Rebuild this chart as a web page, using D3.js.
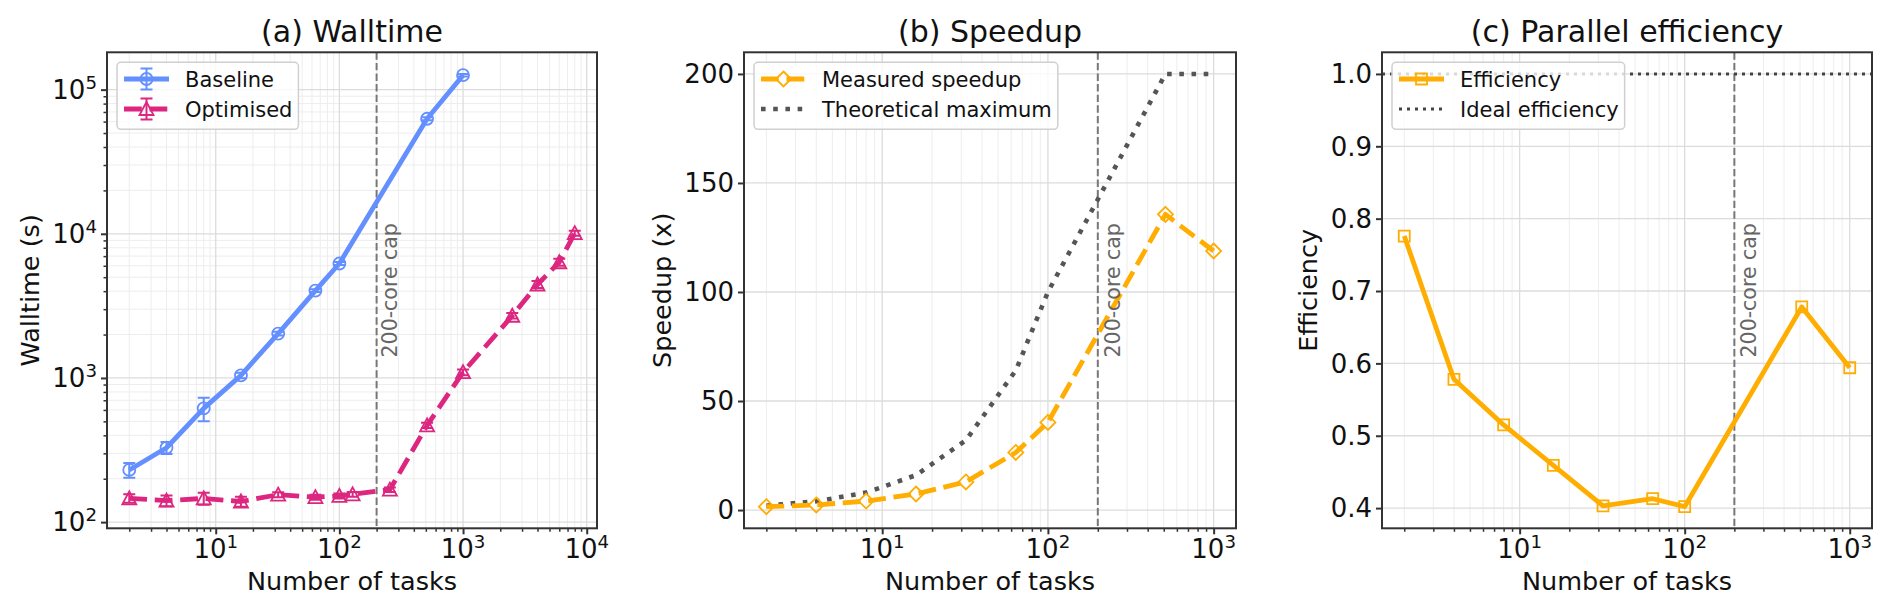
<!DOCTYPE html>
<html>
<head>
<meta charset="utf-8">
<script src="https://cdn.jsdelivr.net/npm/d3@7"></script>
<style>
  body { margin: 0; background: #fff; }
  text { font-family: "DejaVu Sans", sans-serif; }
</style>
</head>
<body>
<div id="chart"></div>
<script>
// ---- data ----
const tasks        = [2, 4, 8, 16, 32, 64, 100, 512, 1000];
const baselineTime = [230, 328, 615, 1042, 2032, 4036, 6220, 62800, 126000];
const baselineErr  = [27, 31, 115, 45, 60, 90, 150, 1500, 2500];

const optTasks = [2, 4, 8, 16, 32, 64, 100, 128, 256, 512, 1000, 2500, 4000, 6000, 8000];
const optTime  = [146, 141, 146, 139, 155, 149, 152, 156, 168, 469, 1096, 2700, 4450, 6350, 10100];
const optErr   = [10, 12, 14, 11, 6, 6, 6, 6, 6, 20, 50, 120, 250, 350, 400];

const speedup     = [1.55, 2.31, 4.12, 7.36, 12.9, 26.4, 40.2, 135.6, 118.8];
const theoretical = [2, 4, 8, 16, 32, 64, 100, 200, 200];
const efficiency  = [0.776, 0.578, 0.515, 0.459, 0.403, 0.413, 0.402, 0.678, 0.594];
const idealEff    = 1.0;
const coreCap     = 200;

const speedTicks = [0, 50, 100, 150, 200];
const effTicks   = [0.4, 0.5, 0.6, 0.7, 0.8, 0.9, 1.0];

const BLUE = "#648FFF", PINK = "#DC267F", ORANGE = "#FFAD00";
const W = 1892, H = 611;
const plotTop = 52.3, plotBottom = 528.3;

const svg = d3.select("#chart").append("svg")
  .attr("width", W).attr("height", H);

function padLog(lo, hi) {
  let a = Math.log10(lo), b = Math.log10(hi), m = (b - a) * 0.05;
  return [Math.pow(10, a - m), Math.pow(10, b + m)];
}
function padLin(lo, hi) {
  let m = (hi - lo) * 0.05;
  return [lo - m, hi + m];
}
function logTicks(scale) {
  let [a, b] = scale.domain();
  let major = [], minor = [];
  for (let e = Math.floor(Math.log10(a)); e <= Math.ceil(Math.log10(b)); e++) {
    for (let k = 1; k < 10; k++) {
      let v = k * Math.pow(10, e);
      if (v < a || v > b) continue;
      (k === 1 ? major : minor).push(v);
    }
  }
  return {major, minor};
}
function pow10(sel) {
  sel.each(function(d) {
    let t = d3.select(this);
    t.append("tspan").text("10");
    t.append("tspan").attr("dy", "-0.55em").attr("font-size", "0.7em")
      .text(Math.round(Math.log10(d)));
  });
}

function marker(g, type, x, y, color) {
  let p;
  if (type === "circle") {
    return g.append("circle").attr("cx", x).attr("cy", y).attr("r", 6)
      .attr("fill", "none").attr("stroke", color).attr("stroke-width", 1.8);
  }
  if (type === "triangle") p = `M${x},${y-7}L${x-7},${y+6}L${x+7},${y+6}Z`;
  if (type === "diamond") p = `M${x},${y-7.5}L${x+7.5},${y}L${x},${y+7.5}L${x-7.5},${y}Z`;
  if (type === "square") p = `M${x-5.5},${y-5.5}h11v11h-11Z`;
  return g.append("path").attr("d", p)
    .attr("fill", "none").attr("stroke", color).attr("stroke-width", 1.8);
}

function panel(o) {
  const w = o.width, h = plotBottom - plotTop;
  const g = svg.append("g").attr("transform", `translate(${o.left},${plotTop})`);
  o.x.range([0, w]);
  o.y.range([h, 0]);
  const xt = logTicks(o.x);
  const yt = o.yLog ? logTicks(o.y) : {major: o.yTicks, minor: []};

  // grid
  const grid = g.append("g");
  grid.selectAll(".xmin").data(xt.minor).join("line")
    .attr("x1", d => o.x(d)).attr("x2", d => o.x(d)).attr("y1", 0).attr("y2", h)
    .attr("stroke", "#ededed").attr("stroke-width", 1);
  grid.selectAll(".ymin").data(yt.minor).join("line")
    .attr("y1", d => o.y(d)).attr("y2", d => o.y(d)).attr("x1", 0).attr("x2", w)
    .attr("stroke", "#ededed").attr("stroke-width", 1);
  grid.selectAll(".xmaj").data(xt.major).join("line")
    .attr("x1", d => o.x(d)).attr("x2", d => o.x(d)).attr("y1", 0).attr("y2", h)
    .attr("stroke", "#dcdcdc").attr("stroke-width", 1.3);
  grid.selectAll(".ymaj").data(yt.major).join("line")
    .attr("y1", d => o.y(d)).attr("y2", d => o.y(d)).attr("x1", 0).attr("x2", w)
    .attr("stroke", "#dcdcdc").attr("stroke-width", 1.3);

  const clipId = "clip" + o.left;
  g.append("clipPath").attr("id", clipId).append("rect").attr("width", w).attr("height", h);
  const plot = g.append("g").attr("clip-path", `url(#${clipId})`);

  // core cap line
  plot.append("line")
    .attr("x1", o.x(coreCap)).attr("x2", o.x(coreCap)).attr("y1", 0).attr("y2", h)
    .attr("stroke", "#777").attr("stroke-width", 2).attr("stroke-dasharray", "7.4,3.2");

  o.draw(plot, o.x, o.y);

  plot.append("text")
    .attr("transform", `translate(${o.x(coreCap * 1.1)},${h / 2}) rotate(-90)`)
    .attr("text-anchor", "middle").attr("dominant-baseline", "hanging")
    .attr("font-size", 20.5).attr("fill", "#666")
    .text("200-core cap");

  // ticks
  g.append("g").attr("transform", `translate(0,${h})`)
    .call(d3.axisBottom(o.x).tickValues(xt.minor).tickSize(3.5).tickFormat(""))
    .call(a => a.select(".domain").remove())
    .selectAll("line").attr("stroke", "#333").attr("stroke-width", 1.5);
  g.append("g").attr("transform", `translate(0,${h})`)
    .call(d3.axisBottom(o.x).tickValues(xt.major).tickSize(6).tickFormat(""))
    .call(a => a.select(".domain").remove())
    .selectAll("line").attr("stroke", "#333").attr("stroke-width", 2);
  if (yt.minor.length) {
    g.append("g")
      .call(d3.axisLeft(o.y).tickValues(yt.minor).tickSize(3.5).tickFormat(""))
      .call(a => a.select(".domain").remove())
      .selectAll("line").attr("stroke", "#333").attr("stroke-width", 1.5);
  }
  g.append("g")
    .call(d3.axisLeft(o.y).tickValues(yt.major).tickSize(6).tickFormat(""))
    .call(a => a.select(".domain").remove())
    .selectAll("line").attr("stroke", "#333").attr("stroke-width", 2);

  g.append("g").selectAll("text").data(xt.major).join("text")
    .attr("x", d => o.x(d)).attr("y", h + 30)
    .attr("text-anchor", "middle").attr("font-size", 26).attr("fill", "#111")
    .call(pow10);

  const yl = g.append("g");
  const ylt = yl.selectAll("text").data(yt.major).join("text")
    .attr("x", -10).attr("y", d => o.y(d)).attr("dy", "0.36em")
    .attr("text-anchor", "end").attr("font-size", 26).attr("fill", "#111");
  if (o.yLog) ylt.call(pow10); else ylt.text(o.yFormat);
  const yw = yl.node().getBBox().width;

  // frame
  g.append("rect").attr("width", w).attr("height", h)
    .attr("fill", "none").attr("stroke", "#333").attr("stroke-width", 2);

  // labels
  g.append("text").attr("x", w / 2).attr("y", -10)
    .attr("text-anchor", "middle").attr("font-size", 30).attr("fill", "#111")
    .text(o.title);
  g.append("text").attr("x", w / 2).attr("y", h + 62)
    .attr("text-anchor", "middle").attr("font-size", 25.5).attr("fill", "#111")
    .text("Number of tasks");
  g.append("text")
    .attr("transform", `translate(${-10 - yw - 22.5},${h / 2}) rotate(-90)`)
    .attr("dy", "0.36em").attr("text-anchor", "middle")
    .attr("font-size", 25.5).attr("fill", "#111")
    .text(o.ylabel);

  legend(g, o.legend);
}

function legend(g, items) {
  const lg = g.append("g").attr("transform", "translate(10,10)");
  const box = lg.append("rect").attr("rx", 4).attr("ry", 4)
    .attr("fill", "#fff").attr("fill-opacity", 0.8)
    .attr("stroke", "#d0d0d0").attr("stroke-width", 1.5);
  let maxW = 0;
  items.forEach((it, i) => {
    const cy = 16.7 + i * 30;
    lg.append("line").attr("x1", 7).attr("x2", 52).attr("y1", cy).attr("y2", cy)
      .attr("stroke", it.color).attr("stroke-width", it.width)
      .attr("stroke-dasharray", it.dash || null);
    if (it.err) {
      lg.append("path")
        .attr("d", `M29.5,${cy-10.5}V${cy+10.5}M23.5,${cy-10.5}H35.5M23.5,${cy+10.5}H35.5`)
        .attr("stroke", it.color).attr("stroke-width", 2).attr("fill", "none");
    }
    if (it.marker) marker(lg, it.marker, 29.5, cy, it.color);
    const t = lg.append("text").attr("x", 68).attr("y", cy).attr("dy", "0.36em")
      .attr("font-size", 21).attr("fill", "#111").text(it.label);
    maxW = Math.max(maxW, t.node().getComputedTextLength());
  });
  box.attr("width", 68 + maxW + 6).attr("height", 67);
}

function series(g, x, y, xs, ys, s) {
  const line = d3.line().x((d, i) => x(xs[i])).y(d => y(d));
  if (s.err) {
    ys.forEach((v, i) => {
      const px = x(xs[i]), y1 = y(v - s.err[i]), y2 = y(v + s.err[i]);
      g.append("path")
        .attr("d", `M${px},${y1}V${y2}M${px-6},${y1}H${px+6}M${px-6},${y2}H${px+6}`)
        .attr("stroke", s.color).attr("stroke-width", 2).attr("fill", "none");
    });
  }
  g.append("path").datum(ys).attr("d", line)
    .attr("fill", "none").attr("stroke", s.color).attr("stroke-width", s.width)
    .attr("stroke-dasharray", s.dash || null).attr("stroke-linejoin", "round");
  if (s.marker) ys.forEach((v, i) => marker(g, s.marker, x(xs[i]), y(v), s.color));
}

// (a) Walltime
const lowA = d3.min(optTime.map((v, i) => v - optErr[i]));
const highA = d3.max(baselineTime.map((v, i) => v + baselineErr[i]));
panel({
  left: 107, width: 490,
  title: "(a) Walltime", ylabel: "Walltime (s)",
  x: d3.scaleLog().domain(padLog(d3.min(tasks), d3.max(optTasks))),
  y: d3.scaleLog().domain(padLog(lowA, highA)),
  yLog: true,
  draw: (g, x, y) => {
    series(g, x, y, tasks, baselineTime, {color: BLUE, width: 4.8, marker: "circle", err: baselineErr});
    series(g, x, y, optTasks, optTime, {color: PINK, width: 4.8, dash: "17.8,7.7", marker: "triangle", err: optErr});
  },
  legend: [
    {label: "Baseline", color: BLUE, width: 4.8, marker: "circle", err: true},
    {label: "Optimised", color: PINK, width: 4.8, dash: "17.8,7.7", marker: "triangle", err: true}
  ]
});

// (b) Speedup
panel({
  left: 744, width: 492,
  title: "(b) Speedup", ylabel: "Speedup (x)",
  x: d3.scaleLog().domain(padLog(d3.min(tasks), d3.max(tasks))),
  y: d3.scaleLinear().domain(padLin(d3.min(speedup), d3.max(theoretical))),
  yTicks: speedTicks, yFormat: d3.format("d"),
  draw: (g, x, y) => {
    series(g, x, y, tasks, theoretical, {color: "#555", width: 4.6, dash: "4.6,7.6"});
    series(g, x, y, tasks, speedup, {color: ORANGE, width: 4.8, dash: "17.8,7.7", marker: "diamond"});
  },
  legend: [
    {label: "Measured speedup", color: ORANGE, width: 4.8, dash: "17.8,7.7", marker: "diamond"},
    {label: "Theoretical maximum", color: "#555", width: 4.6, dash: "4.6,7.6"}
  ]
});

// (c) Parallel efficiency
panel({
  left: 1382, width: 490,
  title: "(c) Parallel efficiency", ylabel: "Efficiency",
  x: d3.scaleLog().domain(padLog(d3.min(tasks), d3.max(tasks))),
  y: d3.scaleLinear().domain(padLin(d3.min(efficiency), idealEff)),
  yTicks: effTicks, yFormat: d3.format(".1f"),
  draw: (g, x, y) => {
    const [x0, x1] = x.range();
    g.append("line").attr("x1", x0).attr("x2", x1)
      .attr("y1", y(idealEff)).attr("y2", y(idealEff))
      .attr("stroke", "#444").attr("stroke-width", 3).attr("stroke-dasharray", "3,5");
    series(g, x, y, tasks, efficiency, {color: ORANGE, width: 4.8, marker: "square"});
  },
  legend: [
    {label: "Efficiency", color: ORANGE, width: 4.8, marker: "square"},
    {label: "Ideal efficiency", color: "#444", width: 3, dash: "3,5"}
  ]
});
</script>
</body>
</html>
